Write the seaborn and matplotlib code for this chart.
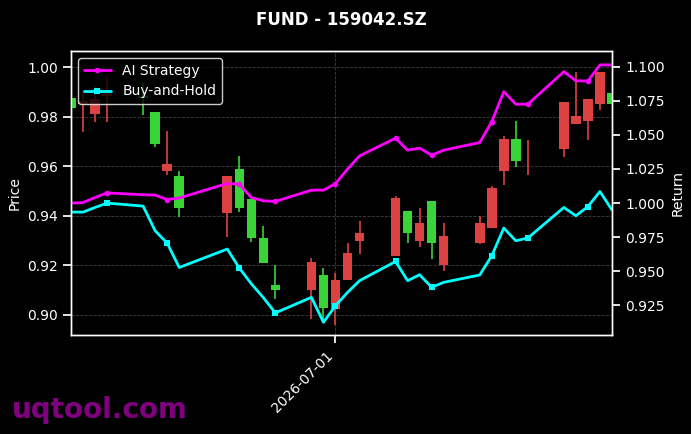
import numpy as np
import pandas as pd
import matplotlib
matplotlib.use("Agg")
import matplotlib.pyplot as plt
import matplotlib.dates as mdates
import seaborn as sns

# ---- data ----
dates = ["2026-06-09", "2026-06-10", "2026-06-11", "2026-06-12",
         "2026-06-15", "2026-06-16", "2026-06-17", "2026-06-18",
         "2026-06-22", "2026-06-23", "2026-06-24", "2026-06-25", "2026-06-26",
         "2026-06-29", "2026-06-30", "2026-07-01", "2026-07-02", "2026-07-03",
         "2026-07-06", "2026-07-07", "2026-07-08", "2026-07-09", "2026-07-10",
         "2026-07-13", "2026-07-14", "2026-07-15", "2026-07-16", "2026-07-17",
         "2026-07-20", "2026-07-21", "2026-07-22", "2026-07-23", "2026-07-24"]

open_ = [0.9876, 0.9850, 0.9812, 0.9883, 0.9883, 0.9818, 0.9581, 0.9560,
         0.9413, 0.9588, 0.9469, 0.9312, 0.9120, 0.9101, 0.9161, 0.9023,
         0.9140, 0.9298, 0.9238, 0.9419, 0.9298, 0.9460, 0.9202, 0.9289,
         0.9350, 0.9581, 0.9711, 0.9616, 0.9671, 0.9771, 0.9782, 0.9852,
         0.9896]
close = [0.9834, 0.9862, 0.9870, 0.9905, 0.9874, 0.9691, 0.9608, 0.9433,
         0.9561, 0.9433, 0.9312, 0.9209, 0.9101, 0.9212, 0.9029, 0.9141,
         0.9251, 0.9332, 0.9473, 0.9332, 0.9372, 0.9292, 0.9319, 0.9372,
         0.9513, 0.9711, 0.9621, 0.9617, 0.9860, 0.9802, 0.9870, 0.9981,
         0.9852]
high = [0.9900, 0.9905, 0.9925, 0.9960, 0.9935, 0.9818, 0.9742, 0.9581,
        0.9561, 0.9641, 0.9469, 0.9359, 0.9202, 0.9231, 0.9191, 0.9171,
        0.9292, 0.9379, 0.9480, 0.9419, 0.9433, 0.9460, 0.9372, 0.9399,
        0.9520, 0.9722, 0.9782, 0.9704, 0.9860, 0.9981, 0.9870, 0.9981,
        0.9896]
low = [0.9830, 0.9739, 0.9778, 0.9778, 0.9806, 0.9677, 0.9565, 0.9396,
       0.9316, 0.9417, 0.9296, 0.9209, 0.9063, 0.8983, 0.8976, 0.8960,
       0.9140, 0.9245, 0.9238, 0.9292, 0.9274, 0.9225, 0.9177, 0.9285,
       0.9350, 0.9524, 0.9597, 0.9565, 0.9637, 0.9771, 0.9704, 0.9827,
       0.9852]

ai_strategy = [1.0000, 1.0004, 1.0041, 1.0075, 1.0061, 1.0059, 1.0026, 1.0037,
               1.0144, 1.0139, 1.0041, 1.0017, 1.0012, 1.0095, 1.0095, 1.0143,
               1.0249, 1.0346, 1.0476, 1.0388, 1.0403, 1.0351, 1.0388, 1.0444,
               1.0597, 1.0817, 1.0725, 1.0725, 1.0964, 1.0896, 1.0896, 1.1013,
               1.1013]
buy_hold = [0.9934, 0.9934, 0.9968, 1.0000, 0.9978, 0.9797, 0.9707, 0.9528,
            0.9663, 0.9524, 0.9409, 0.9307, 0.9195, 0.9309, 0.9126, 0.9248,
            0.9345, 0.9431, 0.9572, 0.9431, 0.9475, 0.9382, 0.9419, 0.9473,
            0.9614, 0.9817, 0.9724, 0.9744, 0.9968, 0.9907, 0.9975, 1.0085,
            0.9949]

title = "FUND - 159042.SZ"
watermark = "uqtool.com"

df = pd.DataFrame({"date": pd.to_datetime(dates), "open": open_, "close": close,
                   "high": high, "low": low,
                   "AI Strategy": ai_strategy, "Buy-and-Hold": buy_hold})

sns.set_theme(style="dark")
plt.rcParams.update({
    "figure.facecolor": "black", "axes.facecolor": "black",
    "text.color": "white", "axes.labelcolor": "white",
    "xtick.color": "white", "ytick.color": "white",
    "axes.edgecolor": "white", "font.family": ["DejaVu Sans"],
    "xtick.bottom": True, "ytick.left": True,
})

fig = plt.figure(figsize=(6.91, 4.34), dpi=100)
ax = fig.add_axes([71/691, 1-335/434, (612-71)/691, (335-51)/434])
ax.set_facecolor("black")

up_col = "#dc4242"
dn_col = "#38d438"
colors = [up_col if c >= o else dn_col for o, c in zip(df["open"], df["close"])]
body_lo = np.minimum(df["open"], df["close"])
body_h = np.abs(df["close"] - df["open"])
ax.vlines(df["date"], df["low"], df["high"], colors=colors, linewidth=1.2, zorder=2)
ax.bar(df["date"], body_h, bottom=body_lo, width=0.8, color=colors,
       edgecolor=colors, linewidth=0, zorder=3)

ax.set_ylim(0.8919, 1.0065)
ax.set_ylabel("Price", color="white", fontsize=10)
ax.grid(True, axis="both", linestyle="--", color="gray", alpha=0.5, linewidth=0.6)

ax2 = ax.twinx()
sns.lineplot(data=df, x="date", y="AI Strategy", ax=ax2, color="#ff00ff",
             linewidth=2, marker="o", markersize=4, markevery=(3, 3),
             markeredgewidth=0, label="AI Strategy", legend=False)
sns.lineplot(data=df, x="date", y="Buy-and-Hold", ax=ax2, color="#00ffff",
             linewidth=2, marker="s", markersize=4, markevery=(3, 3),
             markeredgewidth=0, label="Buy-and-Hold", legend=False)
ax2.set_ylim(0.9033, 1.1115)
ax2.set_ylabel("Return", color="white", fontsize=10)
ax2.grid(False)
ax2.tick_params(axis="y", colors="white", right=True, labelsize=10)
ax2.set_xlabel("")

ax.set_xlim(df["date"].iloc[0], df["date"].iloc[-1])
ax.xaxis.set_major_locator(mdates.MonthLocator())
ax.xaxis.set_major_formatter(mdates.DateFormatter("%Y-%m-%d"))
ax.set_xlabel("")
for lbl in ax.get_xticklabels():
    lbl.set_rotation(45)
    lbl.set_ha("right")
ax.tick_params(axis="both", colors="white", labelsize=10)

for a in (ax, ax2):
    for s in a.spines.values():
        s.set_color("white")
        s.set_linewidth(1)

h, l = ax2.get_legend_handles_labels()
leg = ax2.legend(h, l, loc="upper left", facecolor="black", edgecolor="white",
                 framealpha=0.8, fontsize=10)
for t in leg.get_texts():
    t.set_color("white")

ax.set_title(title, color="white", fontsize=12, fontweight="bold", pad=19)
fig.text(0.017, 0.037, watermark, color="#800080", fontsize=20,
         fontweight="bold", va="baseline", ha="left")

fig.savefig("out.png", dpi=100, facecolor="black")
